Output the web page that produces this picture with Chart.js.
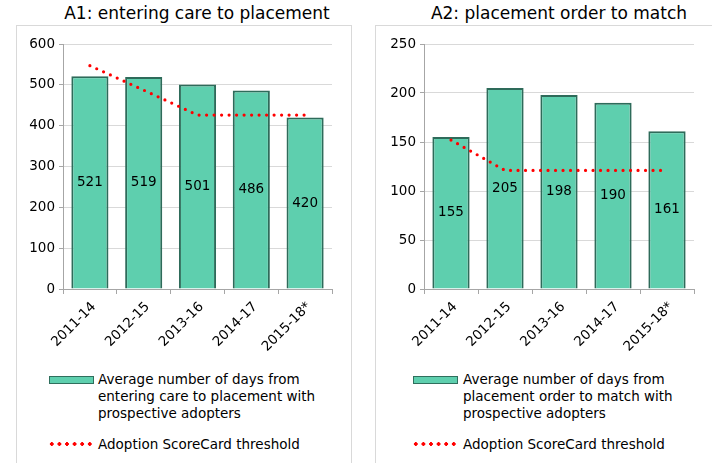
<!DOCTYPE html>
<html>
<head>
<meta charset="utf-8">
<script src="https://cdn.jsdelivr.net/npm/chart.js@4.4.0/dist/chart.umd.min.js"></script>
<style>
  body { margin: 0; background: #fff; font-family: "DejaVu Sans", sans-serif; color: #000; }
  .panel { position: absolute; top: 25px; height: 450px; width: 336px; border: 1px solid #d9d9d9; box-sizing: border-box; }
  .title { position: absolute; top: 3px; font-size: 17px; white-space: nowrap; transform: translateX(-50%); }
  .cv { position: absolute; }
  .leg { position: absolute; font-size: 13.5px; line-height: 17px; }
  .sw { position: absolute; width: 43px; height: 6px; background: #5ecfae; border: 1.5px solid #2f6f5d; }
  .dots { position: absolute; width: 44px; height: 4px;
    background-image: radial-gradient(circle, #ff0000 1.6px, transparent 1.9px);
    background-size: 7.6px 4px; }
</style>
</head>
<body>
<div class="panel" style="left:16px"></div>
<div class="panel" style="left:375px; width:340px"></div>
<div class="title" style="left:197px">A1: entering care to placement</div>
<div class="title" style="left:559px">A2: placement order to match</div>
<canvas id="c1" class="cv" style="left:16px;top:25px" width="336" height="340"></canvas>
<canvas id="c2" class="cv" style="left:375px;top:25px" width="337" height="340"></canvas>

<div class="sw" style="left:49px;top:376px"></div>
<div class="leg" style="left:98px;top:371px">Average number of days from<br>entering care to placement with<br>prospective adopters</div>
<div class="dots" style="left:48px;top:442px"></div>
<div class="leg" style="left:98px;top:436px">Adoption ScoreCard threshold</div>

<div class="sw" style="left:413px;top:376px"></div>
<div class="leg" style="left:463px;top:371px">Average number of days from<br>placement order to match with<br>prospective adopters</div>
<div class="dots" style="left:412px;top:442px"></div>
<div class="leg" style="left:463px;top:436px">Adoption ScoreCard threshold</div>

<script>
const periods = ['2011-14', '2012-15', '2013-16', '2014-17', '2015-18*']
const daysA1 = [521, 519, 501, 486, 420]
const thresholdA1 = [547, 487, 426, 426, 426]
const daysA2 = [155, 205, 198, 190, 161]
const thresholdA2 = [152, 121, 121, 121, 121]

const font = {family: 'DejaVu Sans', size: 13.5}

// value labels in the middle of each bar
const barLabels = {
  id: 'barLabels',
  afterDatasetsDraw(chart) {
    const ctx = chart.ctx
    const meta = chart.getDatasetMeta(0)
    ctx.save()
    ctx.font = '13.5px "DejaVu Sans"'
    ctx.fillStyle = '#000'
    ctx.textAlign = 'center'
    ctx.textBaseline = 'middle'
    meta.data.forEach((bar, i) => {
      ctx.fillText(chart.data.datasets[0].data[i], bar.x, (bar.y + bar.base) / 2)
    })
    ctx.restore()
  }
}

function makeChart(id, days, threshold, max, step, yWidth, padRight) {
  new Chart(document.getElementById(id), {
    data: {
      labels: periods,
      datasets: [{
        type: 'bar',
        data: days,
        backgroundColor: '#5ecfae',
        borderColor: '#2e6b5a',
        borderWidth: 2,
        categoryPercentage: 1,
        barPercentage: 0.69,
        order: 2
      }, {
        type: 'line',
        data: threshold,
        borderColor: '#ff0000',
        borderWidth: 3.2,
        borderDash: [0, 7.5],
        borderCapStyle: 'round',
        pointRadius: 0,
        fill: false,
        order: 1
      }]
    },
    options: {
      responsive: false,
      animation: false,
      layout: {padding: {top: 19, right: padRight, left: 0, bottom: 0}},
      plugins: {legend: {display: false}, tooltip: {enabled: false}},
      scales: {
        x: {
          offset: true,
          grid: {display: true, drawOnChartArea: false, offset: true, color: '#a6a6a6', tickLength: 5},
          border: {color: '#a6a6a6'},
          ticks: {font: font, color: '#000', maxRotation: 45, minRotation: 45, padding: 5, labelOffset: 4},
          afterFit(s) { s.height = 76 }
        },
        y: {
          min: 0, max: max,
          grid: {color: '#d9d9d9', tickLength: 4, tickColor: '#a6a6a6'},
          border: {color: '#a6a6a6'},
          ticks: {stepSize: step, font: font, color: '#000', padding: 4},
          afterFit(s) { s.width = yWidth }
        }
      }
    },
    plugins: [barLabels]
  })
}

makeChart('c1', daysA1, thresholdA1, 600, 100, 47, 20)
makeChart('c2', daysA2, thresholdA2, 250, 50, 49, 18)
</script>
</body>
</html>
